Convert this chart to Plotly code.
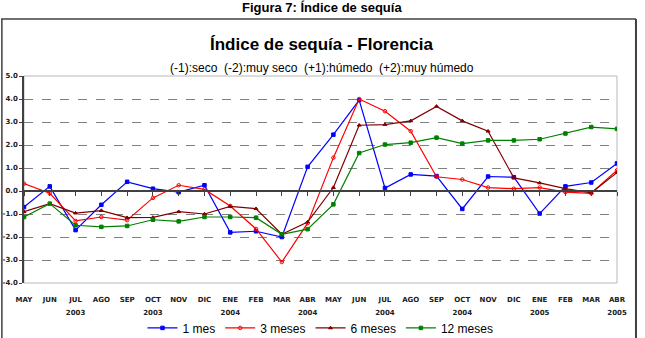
import plotly.graph_objects as go

months = ["MAY", "JUN", "JUL", "AGO", "SEP", "OCT", "NOV", "DIC", "ENE", "FEB", "MAR", "ABR",
          "MAY", "JUN", "JUL", "AGO", "SEP", "OCT", "NOV", "DIC", "ENE", "FEB", "MAR", "ABR"]
years = ["", "", "2003", "", "", "2003", "", "", "2004", "", "", "2004",
         "", "", "2004", "", "", "2004", "", "", "2005", "", "", "2005"]

mes1 = [-0.7, 0.2, -1.7, -0.6, 0.4, 0.1, -0.05, 0.25, -1.8, -1.75, -2.0, 1.05,
        2.45, 3.95, 0.13, 0.72, 0.65, -0.78, 0.63, 0.6, -0.98, 0.2, 0.37, 1.2]
meses3 = [0.32, -0.1, -1.3, -1.13, -1.27, -0.3, 0.25, 0.07, -0.65, -1.65, -3.09, -1.4,
          1.45, 4.0, 3.47, 2.6, 0.62, 0.5, 0.15, 0.1, 0.15, -0.05, -0.1, 0.9]
meses6 = [-0.9, -0.55, -0.96, -0.85, -1.16, -1.15, -0.9, -1.0, -0.67, -0.77, -1.88, -1.35,
          0.15, 2.86, 2.89, 3.05, 3.68, 3.05, 2.6, 0.57, 0.35, 0.1, -0.08, 0.8]
meses12 = [-1.13, -0.55, -1.49, -1.56, -1.52, -1.25, -1.32, -1.13, -1.13, -1.16, -1.88, -1.66,
           -0.58, 1.65, 2.02, 2.1, 2.32, 2.06, 2.2, 2.2, 2.25, 2.5, 2.78, 2.7]

series = [
    ("1 mes", mes1, "#0000ff", "square"),
    ("3 meses", meses3, "#ff0000", "circle-open"),
    ("6 meses", meses6, "#800000", "triangle-up"),
    ("12 meses", meses12, "#008000", "square"),
]

y_ticks = [5, 4, 3, 2, 1, 0, -1, -2, -3, -4]
y_ticktext = ["%.1f" % v for v in y_ticks]

xs = list(range(len(months)))

fig = go.Figure()
for name, vals, col, sym in series:
    fig.add_trace(go.Scatter(
        x=xs, y=vals, name=name, mode="lines+markers",
        line=dict(color=col, width=1.2),
        marker=dict(color=col, size=3.5, symbol=sym, line=dict(color=col, width=1)),
    ))
# helper traces so the overlaying axes (zero-line ticks, year labels) are drawn
for ax in ("x2", "x3"):
    fig.add_trace(go.Scatter(x=xs, y=[0] * len(xs), xaxis=ax, mode="lines",
                             line=dict(color="rgba(0,0,0,0)"), showlegend=False,
                             hoverinfo="skip"))

tick_font = dict(family="DejaVu Sans", size=7, weight="bold", color="#202020")

fig.update_layout(
    width=645, height=338,
    margin=dict(l=24, r=28, t=76, b=55, autoexpand=False),
    paper_bgcolor="white", plot_bgcolor="white",
    font=dict(family="Liberation Sans, Arial, sans-serif", color="black"),
    xaxis=dict(
        range=[0, len(xs) - 1], tickmode="array", tickvals=xs, ticktext=months,
        showgrid=False, zeroline=False, showline=False,
        ticks="outside", ticklen=10, tickcolor="rgba(0,0,0,0)",
        tickfont=tick_font, tickangle=0,
    ),
    xaxis3=dict(
        overlaying="x", anchor="y", side="bottom", matches="x",
        range=[0, len(xs) - 1], tickmode="array", tickvals=xs, ticktext=years,
        showgrid=False, zeroline=False, showline=False,
        ticks="outside", ticklen=23, tickcolor="rgba(0,0,0,0)",
        tickfont=tick_font, tickangle=0,
    ),
    xaxis2=dict(
        overlaying="x", anchor="free", position=4 / 9, matches="x",
        range=[0, len(xs) - 1], tickmode="array", tickvals=xs,
        showticklabels=False, ticks="outside", ticklen=4, tickcolor="#404040",
        showline=True, linecolor="#404040", linewidth=1.5, showgrid=False, zeroline=False,
    ),
    yaxis=dict(
        range=[-4, 5], tickmode="array", tickvals=y_ticks, ticktext=y_ticktext,
        showgrid=True, gridcolor="#808080", griddash="dash", gridwidth=1,
        zeroline=False, showline=True, linecolor="#404040", linewidth=1.5,
        ticks="outside", ticklen=3, tickcolor="#404040",
        tickfont=dict(family="DejaVu Sans", size=7, weight="bold", color="#202020"),
    ),
    legend=dict(
        orientation="h", x=0.5, xanchor="center", y=-0.217, yanchor="middle",
        font=dict(family="Liberation Sans, Arial", size=12),
        itemwidth=30, tracegroupgap=0, bgcolor="rgba(0,0,0,0)",
    ),
    showlegend=True,
    shapes=[
        dict(type="rect", xref="paper", yref="paper", x0=0, x1=1, y0=0, y1=1,
             line=dict(color="#b8b8b8", width=1), layer="below"),
        dict(type="line", xref="paper", yref="paper", x0=-0.0388, x1=1.032, y0=1.2754, y1=1.2754,
             line=dict(color="#404040", width=1.5)),
        dict(type="line", xref="paper", yref="paper", x0=1.032, x1=1.032, y0=-1, y1=1.2754,
             line=dict(color="#404040", width=2)),
        dict(type="line", xref="paper", yref="paper", x0=-0.0373, x1=-0.0373, y0=-1, y1=1.2754,
             line=dict(color="#404040", width=1.5)),
    ],
    annotations=[
        dict(text="<b>Figura 7: Índice de sequía</b>", xref="paper", yref="paper",
             x=0.502, y=1.333, xanchor="center", yanchor="middle", showarrow=False,
             font=dict(family="Liberation Sans, Arial", size=13, color="black")),
        dict(text="<b>Índice de sequía - Florencia</b>", xref="paper", yref="paper",
             x=0.502, y=1.1498, xanchor="center", yanchor="middle", showarrow=False,
             font=dict(family="Liberation Sans, Arial", size=17, color="black")),
        dict(text="(-1):seco\u00a0\u00a0(-2):muy seco\u00a0\u00a0(+1):húmedo\u00a0\u00a0(+2):muy húmedo",
             xref="paper", yref="paper",
             x=0.502, y=1.0386, xanchor="center", yanchor="middle", showarrow=False,
             font=dict(family="Liberation Sans, Arial", size=12, color="black")),
    ],
)

fig.write_html("out.html")
